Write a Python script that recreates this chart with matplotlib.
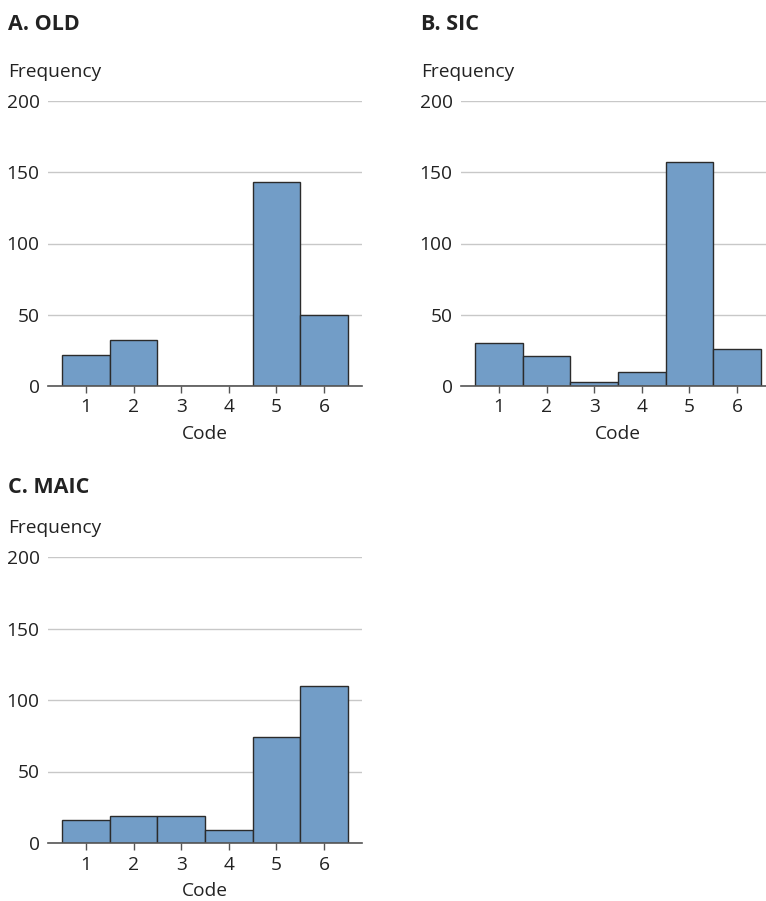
import numpy as np
import matplotlib.pyplot as plt

plt.rcParams['font.family'] = ['Open Sans', 'DejaVu Sans']
plt.rcParams['font.size'] = 13.8

codes = [1, 2, 3, 4, 5, 6]
freq_old = [22, 32, 0, 0, 143, 50]
freq_sic = [30, 21, 3, 10, 157, 26]
freq_maic = [16, 19, 19, 9, 74, 110]
titles = ['A. OLD', 'B. SIC', 'C. MAIC']
yticks = [0, 50, 100, 150, 200]

W, H = 766, 901
bar_color = '#729dc7'
edge_color = '#2b2b2b'
grid_color = '#c8c8c8'
text_color = '#222222'

fig = plt.figure(figsize=(W/100., H/100.), dpi=100)


def px_axes(left, top, right, bottom):
    return fig.add_axes([left/W, 1 - bottom/H, (right-left)/W, (bottom-top)/H])


# data, title, axes box in pixels (left, top, right, bottom), text x, title baseline
panels = [
    (freq_old, titles[0], (48, 101, 362, 386), 8, 30),
    (freq_sic, titles[1], (461, 101, 775, 386), 421, 30),
    (freq_maic, titles[2], (48, 557, 362, 843), 8, 493),
]

for vals, title, box, xtext, ytitle in panels:
    ax = px_axes(*box)
    ax.bar(codes, vals, width=1.0, color=bar_color, edgecolor=edge_color,
           linewidth=1.0, zorder=3)
    ax.set_xlim(0.2, 6.8)
    ax.set_ylim(0, 200)
    ax.set_yticks(yticks)
    ax.set_xticks(codes)
    ax.yaxis.grid(True, color=grid_color, linewidth=1.0, zorder=0)
    ax.set_axisbelow(True)
    for s in ['top', 'right', 'left']:
        ax.spines[s].set_visible(False)
    ax.spines['bottom'].set_color('#555555')
    ax.spines['bottom'].set_linewidth(1.2)
    ax.spines['bottom'].set_zorder(4)
    ax.tick_params(axis='y', length=0, pad=6, colors=text_color)
    ax.tick_params(axis='x', length=5, width=1, color='#555555', pad=4,
                   labelcolor=text_color)
    ax.set_xlabel('Code', color=text_color, labelpad=6)

    top = box[1]
    fig.text(xtext/W, 1 - ytitle/H, title, fontsize=15.5, fontweight='bold',
             color=text_color, ha='left', va='baseline')
    fig.text(xtext/W, 1 - (top - 24)/H, 'Frequency', color=text_color,
             ha='left', va='baseline')

fig.savefig('out.png', dpi=100)
